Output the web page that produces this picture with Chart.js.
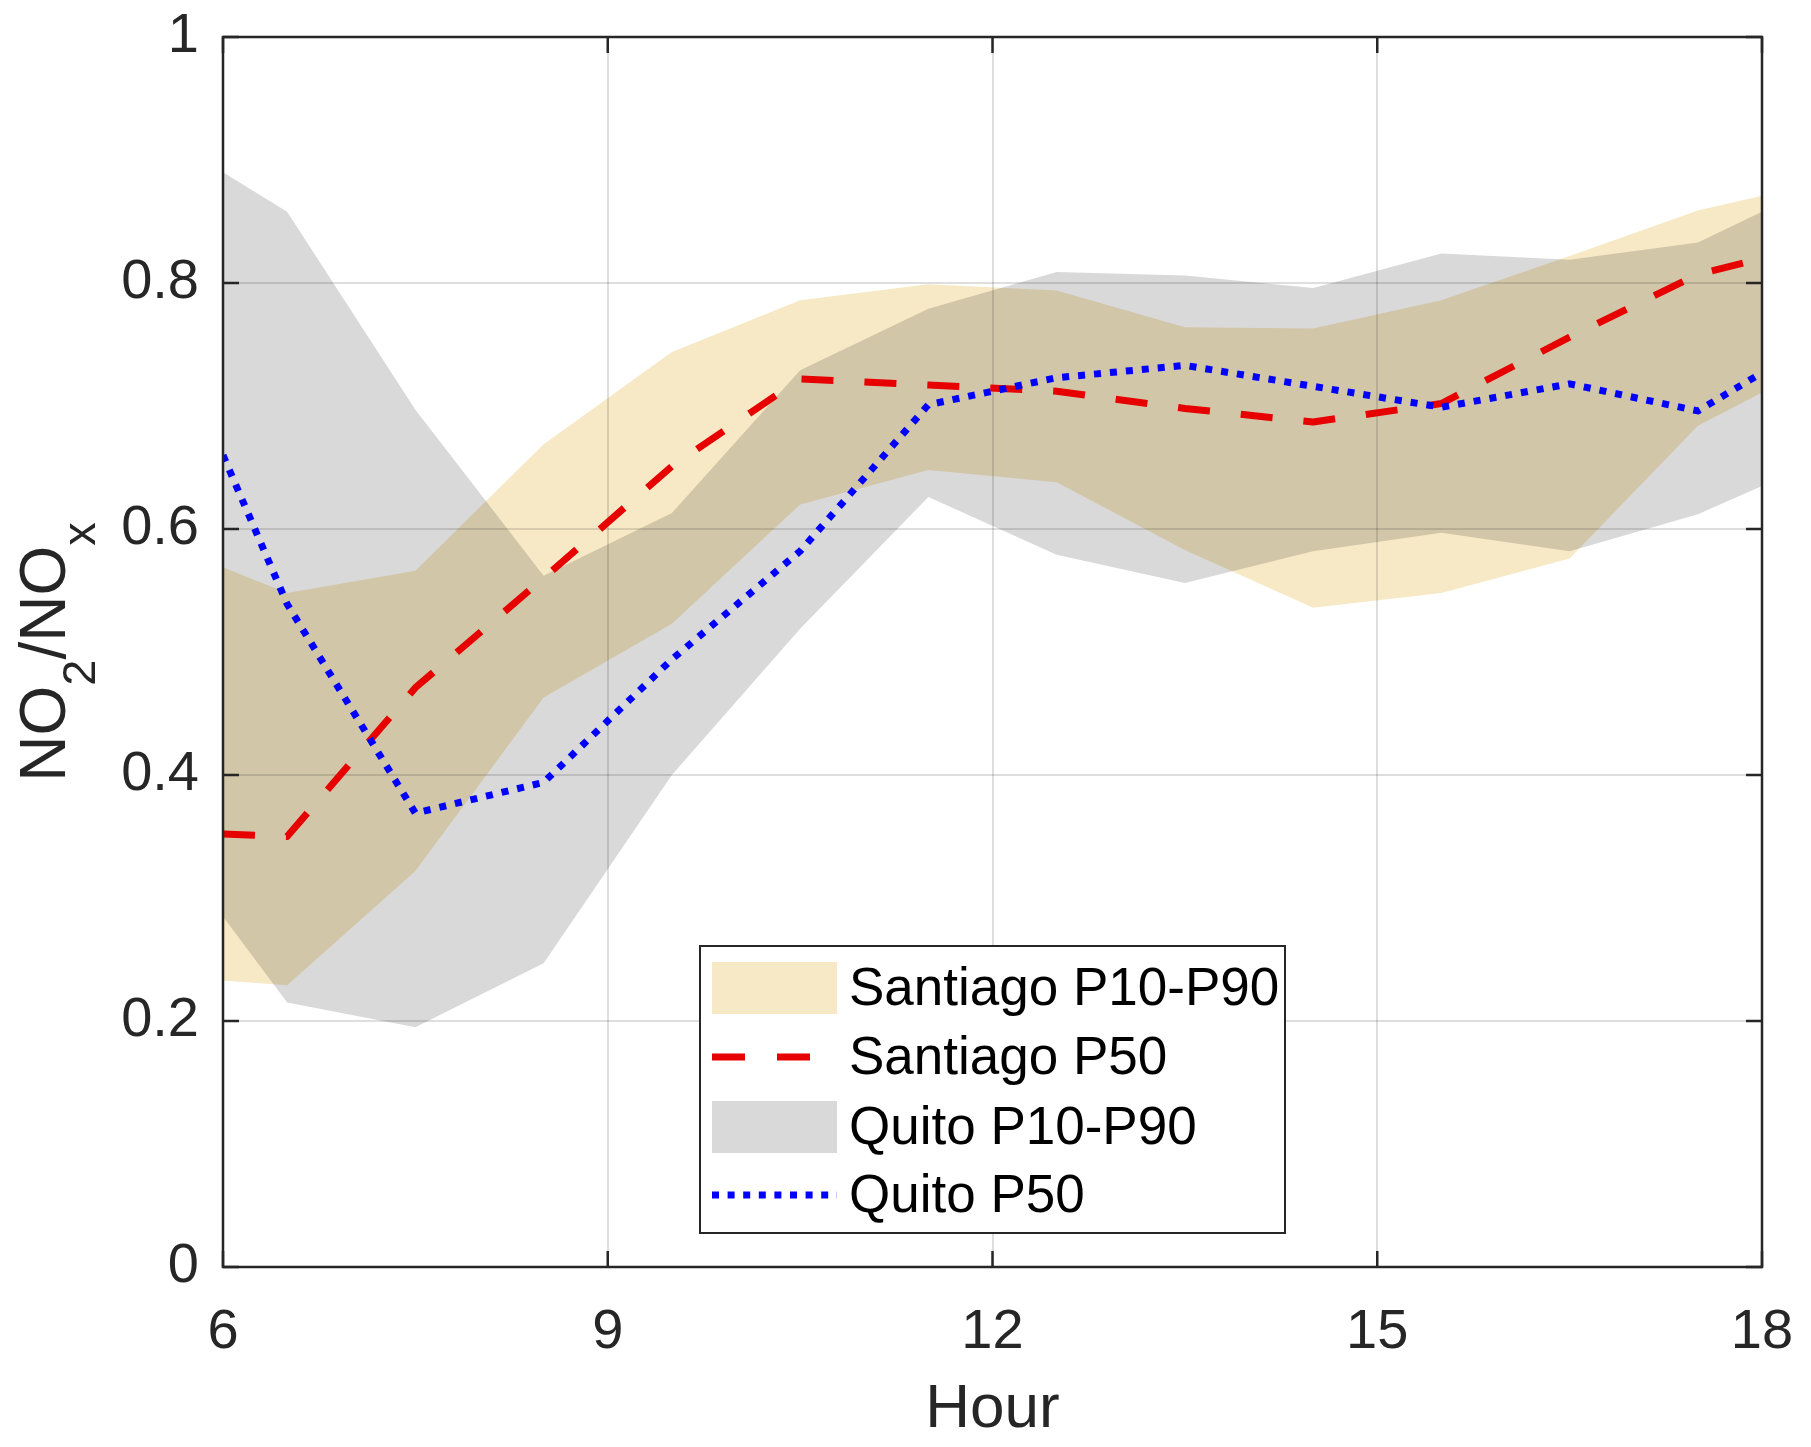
<!DOCTYPE html>
<html>
<head>
<meta charset="utf-8">
<script src="https://cdn.jsdelivr.net/npm/chart.js@4.4.1/dist/chart.umd.min.js"></script>
<style>
  html, body { margin: 0; padding: 0; background: #fff; }
  #wrap { width: 1811px; height: 1447px; }
</style>
</head>
<body>
<div id="wrap"><canvas id="chart" width="1811" height="1447"></canvas></div>
<script>
// hours where the percentile curves have vertices (mid-hour, plus the axis ends)
const hours = [6, 6.5, 7.5, 8.5, 9.5, 10.5, 11.5, 12.5, 13.5, 14.5, 15.5, 16.5, 17.5, 18];

const santiagoP10 = [0.233, 0.229, 0.322, 0.463, 0.523, 0.620, 0.648, 0.638, 0.583, 0.536, 0.548, 0.576, 0.684, 0.711];
const santiagoP50 = [0.352, 0.350, 0.471, 0.560, 0.651, 0.722, 0.717, 0.712, 0.698, 0.687, 0.702, 0.756, 0.807, 0.820];
const santiagoP90 = [0.569, 0.548, 0.566, 0.669, 0.744, 0.786, 0.799, 0.794, 0.764, 0.763, 0.786, 0.822, 0.859, 0.871];

const quitoP10 = [0.285, 0.215, 0.195, 0.247, 0.400, 0.519, 0.626, 0.579, 0.556, 0.582, 0.597, 0.582, 0.612, 0.635];
const quitoP50 = [0.660, 0.539, 0.369, 0.394, 0.494, 0.582, 0.701, 0.723, 0.733, 0.716, 0.699, 0.718, 0.696, 0.727];
const quitoP90 = [0.890, 0.858, 0.697, 0.562, 0.613, 0.729, 0.779, 0.809, 0.806, 0.796, 0.824, 0.819, 0.833, 0.858];

const xTicks = [6, 9, 12, 15, 18];
const yTicks = [0, 0.2, 0.4, 0.6, 0.8, 1];

const legendLabels = ["Santiago P10-P90", "Santiago P50", "Quito P10-P90", "Quito P50"];

const FONT = "'Liberation Sans', Arial, Helvetica, sans-serif";
const AXIS = "#262626";
const SANTIAGO_FILL = "#F7E9C6";
const QUITO_FILL = "#D9D9D9";
const RED = "#E60000";
const BLUE = "#0000FF";

function pts(ys) {
    return hours.map((h, i) => ({ x: h, y: ys[i] }));
}

// fills overlap like the original (darker where both bands cover)
const blendPlugin = {
    id: "blend",
    beforeDraw(chart) { chart.ctx.globalCompositeOperation = "multiply"; },
    beforeDatasetsDraw(chart) { chart.ctx.globalCompositeOperation = "source-over"; }
};

// box + inward ticks, matlab style
const boxPlugin = {
    id: "box",
    afterDatasetsDraw(chart) {
        const { ctx, chartArea: a, scales } = chart;
        const len = 16;
        ctx.save();
        ctx.strokeStyle = AXIS;
        ctx.lineWidth = 2.5;
        ctx.beginPath();
        xTicks.forEach(v => {
            const px = scales.x.getPixelForValue(v);
            ctx.moveTo(px, a.bottom); ctx.lineTo(px, a.bottom - len);
            ctx.moveTo(px, a.top); ctx.lineTo(px, a.top + len);
        });
        yTicks.forEach(v => {
            const py = scales.y.getPixelForValue(v);
            ctx.moveTo(a.left, py); ctx.lineTo(a.left + len, py);
            ctx.moveTo(a.right, py); ctx.lineTo(a.right - len, py);
        });
        ctx.stroke();
        ctx.strokeRect(a.left, a.top, a.right - a.left, a.bottom - a.top);
        ctx.restore();
    }
};

// y title with subscripts: NO2/NOx
const yTitlePlugin = {
    id: "ytitle",
    afterDraw(chart) {
        const { ctx, chartArea: a } = chart;
        const parts = [
            { t: "NO", size: 64, dy: 0 },
            { t: "2", size: 47, dy: 30 },
            { t: "/NO", size: 64, dy: 0 },
            { t: "x", size: 47, dy: 30 }
        ];
        ctx.save();
        ctx.fillStyle = AXIS;
        ctx.textBaseline = "alphabetic";
        let total = 0;
        parts.forEach(p => { ctx.font = p.size + "px " + FONT; p.w = ctx.measureText(p.t).width; total += p.w; });
        ctx.translate(65, (a.top + a.bottom) / 2);
        ctx.rotate(-Math.PI / 2);
        let x = -total / 2;
        parts.forEach(p => {
            ctx.font = p.size + "px " + FONT;
            ctx.fillText(p.t, x, p.dy);
            x += p.w;
        });
        ctx.restore();
    }
};

const legendPlugin = {
    id: "boxLegend",
    afterDraw(chart) {
        const { ctx, chartArea: a } = chart;
        const left = a.left + 477, top = a.top + 909, w = 585, h = 287;
        const rowY = [top + 42, top + 111, top + 181, top + 249];
        const sx = left + 12, sw = 125;
        ctx.save();
        ctx.fillStyle = "#fff";
        ctx.fillRect(left, top, w, h);
        ctx.strokeStyle = AXIS;
        ctx.lineWidth = 2;
        ctx.strokeRect(left, top, w, h);

        ctx.fillStyle = SANTIAGO_FILL;
        ctx.fillRect(sx, rowY[0] - 26, sw, 52);
        ctx.fillStyle = QUITO_FILL;
        ctx.fillRect(sx, rowY[2] - 26, sw, 52);

        ctx.lineWidth = 7;
        ctx.lineCap = "butt";
        ctx.strokeStyle = RED;
        ctx.setLineDash([33, 32]);
        ctx.beginPath(); ctx.moveTo(sx, rowY[1]); ctx.lineTo(sx + 98, rowY[1]); ctx.stroke();
        ctx.strokeStyle = BLUE;
        ctx.setLineDash([7, 8.6]);
        ctx.beginPath(); ctx.moveTo(sx, rowY[3]); ctx.lineTo(sx + sw, rowY[3]); ctx.stroke();
        ctx.setLineDash([]);

        ctx.fillStyle = "#000";
        ctx.font = "53px " + FONT;
        ctx.textBaseline = "middle";
        legendLabels.forEach((t, i) => ctx.fillText(t, left + 149, rowY[i] + 2));
        ctx.restore();
    }
};

const ctx = document.getElementById("chart").getContext("2d");

new Chart(ctx, {
    type: "line",
    data: {
        datasets: [
            { label: "Santiago P10", data: pts(santiagoP10), borderColor: "transparent", borderWidth: 0, pointRadius: 0, fill: false, order: 3 },
            { label: legendLabels[0], data: pts(santiagoP90), borderColor: "transparent", borderWidth: 0, pointRadius: 0, fill: "-1", backgroundColor: SANTIAGO_FILL, order: 3 },
            { label: "Quito P10", data: pts(quitoP10), borderColor: "transparent", borderWidth: 0, pointRadius: 0, fill: false, order: 3 },
            { label: legendLabels[2], data: pts(quitoP90), borderColor: "transparent", borderWidth: 0, pointRadius: 0, fill: "-1", backgroundColor: QUITO_FILL, order: 3 },
            { label: legendLabels[1], data: pts(santiagoP50), borderColor: RED, borderWidth: 7, borderDash: [32, 31], borderCapStyle: "butt", borderJoinStyle: "round", pointRadius: 0, fill: false, order: 1 },
            { label: legendLabels[3], data: pts(quitoP50), borderColor: BLUE, borderWidth: 7, borderDash: [7, 9], borderCapStyle: "butt", borderJoinStyle: "round", pointRadius: 0, fill: false, order: 0 }
        ]
    },
    options: {
        responsive: false,
        animation: false,
        devicePixelRatio: 1,
        layout: { padding: { top: 37, right: 49, left: 0, bottom: 0 } },
        plugins: {
            legend: { display: false },
            tooltip: { enabled: false },
            filler: { drawTime: "beforeDatasetsDraw" }
        },
        scales: {
            x: {
                type: "linear",
                min: 6, max: 18,
                afterBuildTicks: s => { s.ticks = xTicks.map(v => ({ value: v })); },
                afterFit: s => { s.height = 180; s.paddingLeft = 0; s.paddingRight = 0; },
                ticks: { color: AXIS, font: { family: FONT, size: 56 }, padding: 32, maxRotation: 0, callback: v => String(v) },
                grid: { color: "rgba(0,0,0,0.13)", lineWidth: 2, drawTicks: false },
                border: { display: false },
                title: { display: true, text: "Hour", color: AXIS, font: { family: FONT, size: 62 }, padding: { top: 0, bottom: 0 } }
            },
            y: {
                min: 0, max: 1,
                afterBuildTicks: s => { s.ticks = yTicks.map(v => ({ value: v })); },
                afterFit: s => { s.width = 223; s.paddingTop = 0; s.paddingBottom = 0; },
                ticks: { color: AXIS, font: { family: FONT, size: 56 }, padding: 24, callback: v => String(v) },
                grid: { color: "rgba(0,0,0,0.13)", lineWidth: 2, drawTicks: false },
                border: { display: false }
            }
        }
    },
    plugins: [blendPlugin, boxPlugin, yTitlePlugin, legendPlugin]
});
</script>
</body>
</html>
